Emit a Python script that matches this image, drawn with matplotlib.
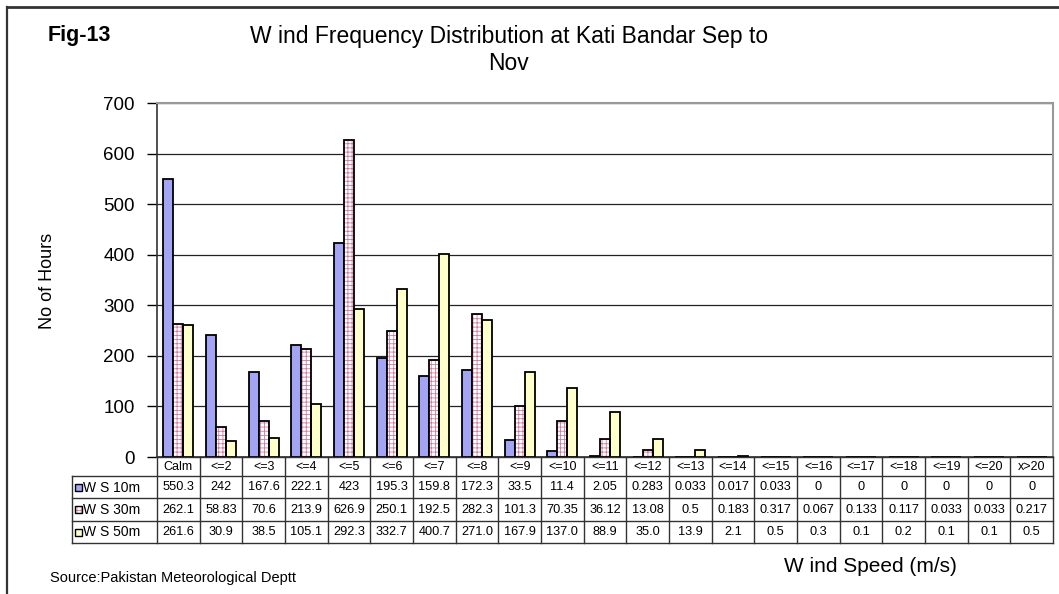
import matplotlib
matplotlib.use("Agg")
import matplotlib.pyplot as plt
from matplotlib.patches import Rectangle
from matplotlib.lines import Line2D
import numpy as np

plt.rcParams['font.family'] = ['Liberation Sans', 'DejaVu Sans']
plt.rcParams['hatch.linewidth'] = 0.6

categories = ["Calm", "<=2", "<=3", "<=4", "<=5", "<=6", "<=7", "<=8", "<=9", "<=10",
              "<=11", "<=12", "<=13", "<=14", "<=15", "<=16", "<=17", "<=18", "<=19",
              "<=20", "x>20"]
ws10 = [550.3, 242, 167.6, 222.1, 423, 195.3, 159.8, 172.3, 33.5, 11.4, 2.05, 0.283,
        0.033, 0.017, 0.033, 0, 0, 0, 0, 0, 0]
ws30 = [262.1, 58.83, 70.6, 213.9, 626.9, 250.1, 192.5, 282.3, 101.3, 70.35, 36.12,
        13.08, 0.5, 0.183, 0.317, 0.067, 0.133, 0.117, 0.033, 0.033, 0.217]
ws50 = [261.6, 30.9, 38.5, 105.1, 292.3, 332.7, 400.7, 271.0, 167.9, 137.0, 88.9, 35.0,
        13.9, 2.1, 0.5, 0.3, 0.1, 0.2, 0.1, 0.1, 0.5]
series_names = ["W S 10m", "W S 30m", "W S 50m"]
yticks = [0, 100, 200, 300, 400, 500, 600, 700]

W, H = 1059, 594
fig = plt.figure(figsize=(W / 100, H / 100), dpi=100)
fig.patch.set_facecolor("white")

# outer frame (left and top edges visible)
fig.add_artist(Line2D([7 / W, 7 / W], [0, 1 - 7 / H], transform=fig.transFigure,
                      color="#333333", lw=1.6))
fig.add_artist(Line2D([7 / W, 1], [1 - 7 / H, 1 - 7 / H], transform=fig.transFigure,
                      color="#333333", lw=2.0))

ax_l, ax_r, ax_t, ax_b = 157, 1053, 103, 457
ax = fig.add_axes([ax_l / W, 1 - ax_b / H, (ax_r - ax_l) / W, (ax_b - ax_t) / H])
n = len(categories)
x = np.arange(n)
bw = 0.235

blue = "#A4A4F4"
yellow = "#FFFFCC"
pinkhatch = "#D07AA0"

ax.bar(x - bw, ws10, bw, color=blue, edgecolor="black", linewidth=1.3, zorder=3)
ax.bar(x, ws30, bw, color="white", edgecolor=pinkhatch, hatch="++++", linewidth=0,
       zorder=3)
ax.bar(x, ws30, bw, fill=False, edgecolor="black", linewidth=1.3, zorder=4)
ax.bar(x + bw, ws50, bw, color=yellow, edgecolor="black", linewidth=1.3, zorder=3)

ax.set_xlim(-0.5, n - 0.5)
ax.set_ylim(0, 700)
ax.set_yticks(yticks)
ax.set_yticklabels([str(v) for v in yticks], fontsize=13.5)
ax.tick_params(axis="y", direction="out", length=7, width=1, pad=9)
ax.set_xticks([])
ax.grid(axis="y", color="#222222", lw=0.9, zorder=0)
for s in ["top", "right"]:
    ax.spines[s].set_color("#999999")
    ax.spines[s].set_linewidth(1.5)
ax.spines["left"].set_color("#333333")
ax.spines["left"].set_linewidth(1.2)
ax.spines["bottom"].set_color("#333333")
ax.spines["bottom"].set_linewidth(1.2)

# data table under the axes
tb_l, tb_t, tb_b = 72, 457, 543
px_per_unit = (ax_r - ax_l) / n
x_left = -0.5 - (ax_l - tb_l) / px_per_unit
tax = fig.add_axes([tb_l / W, 1 - tb_b / H, (ax_r - tb_l) / W, (tb_b - tb_t) / H])
tax.set_xlim(x_left, n - 0.5)
tax.set_ylim(tb_b - tb_t, 0)
tax.axis("off")
rows = [0, 19, 41, 63.5, 86]
lc = "#333333"
for i, yy in enumerate(rows):
    x0 = -0.5 if i == 0 else x_left
    tax.plot([x0, n - 0.5], [yy, yy], color=lc, lw=1.0, clip_on=False)
for k in range(n + 1):
    tax.plot([k - 0.5, k - 0.5], [0, rows[-1]], color=lc, lw=1.0, clip_on=False)
tax.plot([x_left, x_left], [rows[1], rows[-1]], color=lc, lw=1.0, clip_on=False)

for i, c in enumerate(categories):
    tax.text(i, (rows[0] + rows[1]) / 2 + 0.5, c, ha="center", va="center", fontsize=9)

series = [ws10, ws30, ws50]
fmts = [lambda v: "%g" % v, lambda v: "%g" % v, lambda v: "%.1f" % v]
swatch = [dict(facecolor=blue), dict(facecolor="white", hatch="++++"),
          dict(facecolor=yellow)]
for r, (vals, fmt, name) in enumerate(zip(series, fmts, series_names)):
    yc = (rows[r + 1] + rows[r + 2]) / 2 + 0.5
    for i, v in enumerate(vals):
        tax.text(i, yc, fmt(v), ha="center", va="center", fontsize=9.2)
    tax.text(x_left + 0.26, yc, name, ha="left", va="center", fontsize=10)
    sw = 7.5 / px_per_unit
    if r == 1:
        tax.add_patch(Rectangle((x_left + 0.07, yc - 3.5), sw, 7, facecolor="white",
                                edgecolor=pinkhatch, hatch="++++", lw=0,
                                clip_on=False))
        tax.add_patch(Rectangle((x_left + 0.07, yc - 3.5), sw, 7, fill=False,
                                edgecolor="black", lw=1.0, clip_on=False))
    else:
        tax.add_patch(Rectangle((x_left + 0.07, yc - 3.5), sw, 7,
                                edgecolor="black", lw=1.0, clip_on=False, **swatch[r]))

# texts
fig.text(48 / W, 1 - 36 / H, "Fig-13", fontsize=15.5, fontweight="bold",
         ha="left", va="center")
fig.text(509 / W, 1 - 50 / H,
         "W ind Frequency Distribution at Kati Bandar Sep to\nNov",
         fontsize=16.5, ha="center", va="center", multialignment="center",
         linespacing=1.2)
fig.text(47 / W, 1 - 281 / H, "No of Hours", fontsize=13, rotation=90,
         ha="center", va="center")
fig.text(870 / W, 1 - 567 / H, "W ind Speed (m/s)", fontsize=15,
         ha="center", va="center")
fig.text(50 / W, 1 - 578 / H, "Source:Pakistan Meteorological Deptt", fontsize=10.5,
         ha="left", va="center")

fig.savefig("out.png", dpi=100)
